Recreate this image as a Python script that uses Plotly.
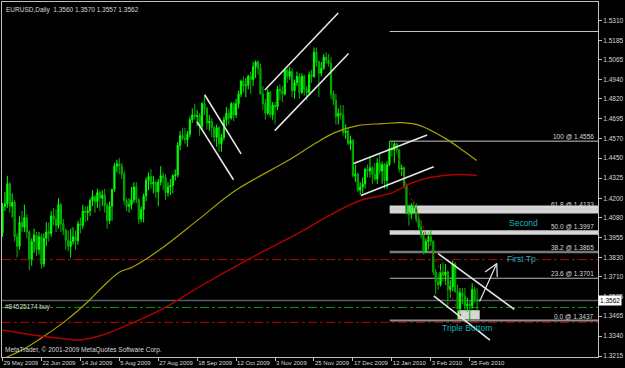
import plotly.graph_objects as go

# ---------------- data (prices in 1/10000) ----------------
opens_pts = [13985,14150,14165,14290,14150,14175,13960,13900,14050,14020,14080,
 13990,13820,13930,13970,13880,13960,13790,13950,13990,13980,
 14090,14070,14030,14160,14040,14000,13940,13900,13930,13960,
 13935,14040,14030,14120,14110,14120,14185,14210,14180,14235,
 14200,14220,14155,14060,14150,14255,14400,14415,14400,14350,
 14185,14150,14160,14190,14270,14190,14070,14130,14215,14310,
 14335,14290,14300,14240,14300,14340,14330,14235,14270,14280,
 14340,14345,14530,14590,14575,14565,14600,14690,14720,14710,
 14715,14650,14790,14760,14670,14680,14640,14580,14640,14540,
 14580,14690,14730,14700,14790,14720,14790,14850,14930,14900,
 14905,14960,14940,15020,15050,15010,14850,14790,14730,14860,
 14720,14780,14770,14880,14870,14850,15000,14960,14990,14870,
 14920,14960,14860,14960,14880,14860,14970,14960,15110,15050,
 14980,15010,15080,15060,15040,14850,14810,14710,14730,14720,
 14610,14620,14540,14560,14340,14350,14250,14270,14290,14380,
 14370,14390,14350,14320,14420,14370,14410,14310,14410,14510,
 14500,14540,14500,14380,14390,14280,14110,14100,14150,14140,
 14070,14020,13970,13865,13930,13960,13930,13740,13680,13660,
 13740,13720,13740,13630,13650,13790,13620,13510,13610,13590,
 13530,13540,13530,13630,13570,13560]
highs_pts = [14170,14240,14340,14300,14230,14190,13980,14090,14120,14160,14100,
 14000,13950,14010,13990,13990,13980,13980,14050,14050,14120,
 14140,14130,14200,14170,14070,14010,14000,14010,14020,14000,
 14060,14080,14160,14150,14150,14200,14250,14220,14260,14250,
 14250,14260,14170,14180,14260,14420,14440,14450,14420,14370,
 14200,14200,14270,14300,14300,14200,14150,14230,14330,14360,
 14380,14340,14310,14320,14400,14360,14350,14300,14320,14350,
 14380,14550,14620,14640,14640,14620,14710,14760,14790,14750,
 14730,14800,14840,14770,14720,14700,14650,14660,14650,14600,
 14710,14770,14760,14800,14800,14820,14870,14940,14960,14950,
 14970,14990,15050,15060,15060,15040,14900,14820,14880,14870,
 14800,14800,14900,14910,14900,15010,15010,15020,15010,14940,
 14990,14980,14980,14970,14900,14990,15000,15140,15140,15060,
 15050,15100,15110,15100,15080,14870,14850,14760,14780,14780,
 14660,14640,14590,14570,14410,14360,14300,14330,14390,14410,
 14450,14400,14420,14450,14480,14430,14420,14430,14556,14550,
 14550,14545,14510,14410,14400,14290,14160,14170,14180,14170,
 14110,14060,13990,13950,13990,14000,13940,13760,13730,13790,
 13800,13790,13750,13690,13810,13800,13660,13640,13640,13640,
 13580,13560,13670,13650,13640,13570]
lows_pts = [13960,14120,14140,14110,14080,13930,13830,13880,13990,13990,13950,
 13750,13780,13860,13840,13850,13760,13770,13900,13930,13960,
 14030,13990,14010,13990,13970,13880,13870,13830,13910,13880,
 13910,13980,14010,14050,14060,14090,14150,14110,14140,14120,
 14150,14110,14010,14040,14060,14240,14360,14350,14320,14160,
 14120,14110,14130,14170,14170,14040,14050,14050,14180,14250,
 14260,14230,14200,14150,14280,14250,14190,14210,14220,14230,
 14310,14330,14500,14560,14540,14520,14580,14670,14690,14650,
 14590,14630,14720,14630,14620,14580,14550,14520,14490,14490,
 14560,14650,14660,14690,14680,14700,14760,14830,14860,14830,
 14880,14850,14900,14950,14970,14850,14750,14690,14720,14700,
 14690,14660,14750,14810,14800,14840,14920,14940,14830,14820,
 14900,14820,14850,14840,14810,14850,14920,14950,15020,14830,
 14960,15000,15040,15020,14820,14780,14660,14660,14690,14590,
 14570,14530,14500,14330,14300,14240,14220,14230,14260,14330,
 14330,14290,14310,14290,14350,14290,14260,14260,14400,14460,
 14420,14480,14360,14340,14260,14100,14030,14070,14110,14050,
 14000,13950,13850,13860,13880,13900,13720,13600,13630,13650,
 13680,13660,13530,13580,13620,13610,13440,13450,13540,13500,
 13490,13437,13510,13550,13500,13557]
closes_pts = [14150,14165,14290,14150,14175,13960,13900,14050,14020,14080,13990,
 13820,13930,13970,13880,13960,13790,13950,13990,13980,14090,
 14070,14030,14160,14040,14000,13940,13900,13930,13960,13935,
 14040,14030,14120,14110,14120,14185,14210,14180,14235,14200,
 14220,14155,14060,14150,14255,14400,14415,14400,14350,14185,
 14150,14160,14190,14270,14190,14070,14130,14215,14310,14335,
 14290,14300,14240,14300,14340,14330,14235,14270,14280,14340,
 14345,14530,14590,14575,14565,14600,14690,14720,14710,14715,
 14650,14790,14760,14670,14680,14640,14580,14640,14540,14580,
 14690,14730,14700,14790,14720,14790,14850,14930,14900,14905,
 14960,14940,15020,15050,15010,14850,14790,14730,14860,14720,
 14780,14770,14880,14870,14850,15000,14960,14990,14870,14920,
 14960,14860,14960,14880,14860,14970,14960,15110,15050,14980,
 15010,15080,15060,15040,14850,14810,14710,14730,14720,14610,
 14620,14540,14560,14340,14350,14250,14270,14290,14380,14370,
 14390,14350,14320,14420,14370,14410,14310,14410,14510,14500,
 14540,14500,14380,14390,14280,14110,14100,14150,14140,14070,
 14020,13970,13865,13930,13960,13930,13740,13680,13660,13740,
 13720,13740,13630,13650,13790,13620,13510,13610,13590,13530,
 13540,13530,13630,13570,13560,13562]

date_tick_idx = [0, 16, 32, 48, 64, 80, 96, 112, 128, 144, 160, 176, 192]
date_labels = ["29 May 2009", "22 Jun 2009", "14 Jul 2009", "5 Aug 2009", "27 Aug 2009",
               "18 Sep 2009", "12 Oct 2009", "3 Nov 2009", "25 Nov 2009", "17 Dec 2009",
               "12 Jan 2010", "3 Feb 2010", "25 Feb 2010"]
price_ticks = [1.5310, 1.5185, 1.5065, 1.4940, 1.4820, 1.4695, 1.4570, 1.4450, 1.4325,
               1.4200, 1.4080, 1.3955, 1.3830, 1.3710, 1.3585, 1.3465, 1.3340, 1.3215]

# slow moving average (yellow): bar index, price
ma_slow_idx = [0, 8.0, 16.5, 26.3, 35.7, 41.0, 48.0, 53.3, 64.3, 80.6, 95.7, 117.3, 128.4,
               136.5, 145.9, 156.1, 164.3, 171.6, 181.4, 188.8, 194.9]
ma_slow_px = [1.3197, 1.3253, 1.3334, 1.3440, 1.3564, 1.3645, 1.3739, 1.3770, 1.3875,
              1.4068, 1.4248, 1.4435, 1.4541, 1.4609, 1.4653, 1.4665, 1.4671, 1.4653,
              1.4578, 1.4503, 1.4435]
# slower moving average (red)
ma_red_idx = [0, 12.4, 26.3, 31.6, 39.8, 53.3, 67.1, 80.6, 101.0, 121.4, 133.7, 146.9,
              159.4, 167.6, 175.7, 186.7, 194.9]
ma_red_px = [1.3378, 1.3347, 1.3322, 1.3316, 1.3341, 1.3421, 1.3521, 1.3645, 1.3819,
             1.3981, 1.4087, 1.4186, 1.4230, 1.4292, 1.4329, 1.4348, 1.4342]
# short dotted red average
ma_fast_idx = [161.4, 164.3, 167.1, 170.4, 173.7, 176.9, 180.2, 183.5, 186.7, 188.4]
ma_fast_px = [1.4522, 1.4360, 1.4236, 1.4112, 1.3987, 1.3850, 1.3739, 1.3627, 1.3515, 1.3465]

# Fibonacci levels
fib_names = ["100", "61.8", "50.0", "38.2", "23.6", "0.0"]
fib_prices = [1.4556, 1.4133, 1.3997, 1.3865, 1.3701, 1.3437]
fib_start = 159.1
fib_top_extra = 1.5240

# order / stop / target lines
order_price = 1.3562
tp_price = 1.3519
sl_prices = [1.3817, 1.3426]

# trend lines (bar index / price endpoints)
tl_x0 = [83.06, 79.9, 107.8, 111.9, 144.3, 147.3, 179.0, 177.2]
tl_y0 = [1.48454, 1.46775, 1.48747, 1.46216, 1.44163, 1.42173, 1.38548, 1.35911]
tl_x1 = [98.04, 94.9, 137.96, 142.2, 174.5, 177.2, 210.3, 200.3]
tl_y1 = [1.44767, 1.4315, 1.53554, 1.51023, 1.45948, 1.43958, 1.35065, 1.33156]

arrow_x = [196.2, 203.1]
arrow_y = [1.3560, 1.37926]
arrow_wing_x = [198.3, 203.3]
arrow_wing_y = [1.37403, 1.37093]

# ---------------- figure ----------------
o = [v / 10000 for v in opens_pts]
h = [v / 10000 for v in highs_pts]
l = [v / 10000 for v in lows_pts]
c = [v / 10000 for v in closes_pts]
idx = list(range(len(c)))

FONT = "Liberation Sans"
TXT = "#d8d8d8"
fig = go.Figure()

fig.add_trace(go.Candlestick(
    x=idx, open=o, high=h, low=l, close=c,
    increasing=dict(line=dict(color="#00ff00", width=1), fillcolor="#00ff00"),
    decreasing=dict(line=dict(color="#00b400", width=1), fillcolor="#007800"),
    whiskerwidth=0, hoverinfo="skip", showlegend=False))

fig.add_trace(go.Scatter(x=ma_slow_idx, y=ma_slow_px, mode="lines",
                         line=dict(color="#a8a000", width=1.2, shape="spline"),
                         hoverinfo="skip", showlegend=False))
fig.add_trace(go.Scatter(x=ma_red_idx, y=ma_red_px, mode="lines",
                         line=dict(color="#b00000", width=1.4, shape="spline"),
                         hoverinfo="skip", showlegend=False))
fig.add_trace(go.Scatter(x=ma_fast_idx, y=ma_fast_px, mode="lines",
                         line=dict(color="#c00000", width=1, dash="dot", shape="spline"),
                         hoverinfo="skip", showlegend=False))

shapes = []
# fib rectangles
shapes.append(dict(type="rect", xref="x", yref="y", x0=fib_start, x1=260, y0=1.4105, y1=1.4155,
                   fillcolor="#d6d6d6", line=dict(width=0), layer="below"))
shapes.append(dict(type="rect", xref="x", yref="y", x0=fib_start, x1=260, y0=1.3972, y1=1.3998,
                   fillcolor="#d6d6d6", line=dict(width=0), layer="below"))
shapes.append(dict(type="rect", xref="x", yref="y", x0=187.1, x1=196.1, y0=1.3444, y1=1.3502,
                   fillcolor="#d6d6d6", line=dict(width=0), layer="below"))
fib_styles = [("#c8c8c8", 1), ("#c8c8c8", 1), ("#c8c8c8", 1), ("#7a7a7a", 2.5),
              ("#b4b4b4", 1), ("#8c8c8c", 2)]
for p, (col, w) in zip(fib_prices, fib_styles):
    shapes.append(dict(type="line", xref="x", yref="y", x0=fib_start, x1=260, y0=p, y1=p,
                       line=dict(color=col, width=w), layer="below"))
shapes.append(dict(type="line", xref="x", yref="y", x0=fib_start, x1=260, y0=fib_top_extra,
                   y1=fib_top_extra, line=dict(color="#c8c8c8", width=1), layer="below"))
# order line, TP, SL
shapes.append(dict(type="line", xref="paper", yref="y", x0=0, x1=1, y0=order_price, y1=order_price,
                   line=dict(color="#52606e", width=1.5), layer="below"))
shapes.append(dict(type="line", xref="paper", yref="y", x0=0, x1=1, y0=tp_price, y1=tp_price,
                   line=dict(color="#00a000", width=1, dash="dashdot"), layer="below"))
for p in sl_prices:
    shapes.append(dict(type="line", xref="paper", yref="y", x0=0, x1=1, y0=p, y1=p,
                       line=dict(color="#c00000", width=1, dash="dashdot"), layer="below"))
# trend lines
for a, b, cc, d in zip(tl_x0, tl_y0, tl_x1, tl_y1):
    shapes.append(dict(type="line", xref="x", yref="y", x0=a, y0=b, x1=cc, y1=d,
                       line=dict(color="#e6e6e6", width=1.6)))
# arrow
shapes.append(dict(type="line", xref="x", yref="y", x0=arrow_x[0], y0=arrow_y[0],
                   x1=arrow_x[1], y1=arrow_y[1], line=dict(color="#e6e6e6", width=1.2)))
for wx, wy in zip(arrow_wing_x, arrow_wing_y):
    shapes.append(dict(type="line", xref="x", yref="y", x0=arrow_x[1], y0=arrow_y[1],
                       x1=wx, y1=wy, line=dict(color="#e6e6e6", width=1.2)))

ann = []
ann.append(dict(xref="paper", yref="paper", x=0, y=1, xanchor="left", yanchor="top",
                xshift=2, yshift=-2, showarrow=False,
                text="EURUSD,Daily&nbsp;&nbsp;1.3560 1.3570 1.3557 1.3562",
                font=dict(family=FONT, size=6.5, color=TXT)))
ann.append(dict(xref="paper", yref="paper", x=0, y=0, xanchor="left", yanchor="bottom",
                xshift=1, yshift=1, showarrow=False,
                text="MetaTrader, © 2001-2009 MetaQuotes Software Corp.",
                font=dict(family=FONT, size=6.5, color=TXT)))
ann.append(dict(xref="paper", yref="y", x=0, y=order_price, xanchor="left", yanchor="top",
                xshift=1, showarrow=False, text="#84525174 buy",
                font=dict(family=FONT, size=6.5, color=TXT)))
for n, p in zip(fib_names, fib_prices):
    ann.append(dict(xref="paper", yref="y", x=1, y=p, xanchor="right", yanchor="bottom",
                    xshift=-2, yshift=-1, showarrow=False, text=f"{n} @ {p:.4f}",
                    font=dict(family=FONT, size=6.5, color=TXT)))
for t, xi, yp in [("Second", 214.1, 1.40432), ("First Tp", 213.3, 1.38224),
                  ("Triple Bottom", 190.8, 1.33902)]:
    ann.append(dict(xref="x", yref="y", x=xi, y=yp, showarrow=False, text=t,
                    font=dict(family=FONT, size=8.5, color="#18b0bc")))
ann.append(dict(xref="paper", yref="y", x=1, y=order_price, xanchor="left", showarrow=False,
                xshift=0, text="1.3562", bgcolor="#ffffff", borderpad=1,
                font=dict(family=FONT, size=6.5, color="#000000")))

fig.update_layout(
    width=625, height=368,
    margin=dict(l=2, r=23, t=1, b=11),
    paper_bgcolor="#000000", plot_bgcolor="#000000",
    shapes=shapes, annotations=ann, hovermode=False,
    xaxis=dict(range=[-0.2, 244.7], tickvals=date_tick_idx, ticktext=date_labels,
               ticks="outside", ticklen=3, tickcolor="#c0c0c0", tickangle=0,
               ticklabelposition="outside right",
               tickfont=dict(family=FONT, size=6, color=TXT),
               showgrid=False, zeroline=False, showline=True, linecolor="#c0c0c0",
               mirror=True, rangeslider=dict(visible=False), fixedrange=True),
    yaxis=dict(range=[1.32099, 1.54238], side="right", tickvals=price_ticks,
               ticktext=[f"{p:.4f}" for p in price_ticks],
               ticks="outside", ticklen=3, tickcolor="#c0c0c0",
               tickfont=dict(family=FONT, size=6.5, color=TXT),
               showgrid=False, zeroline=False, showline=True, linecolor="#c0c0c0",
               mirror=True, fixedrange=True),
)

fig.write_html("out.html")
